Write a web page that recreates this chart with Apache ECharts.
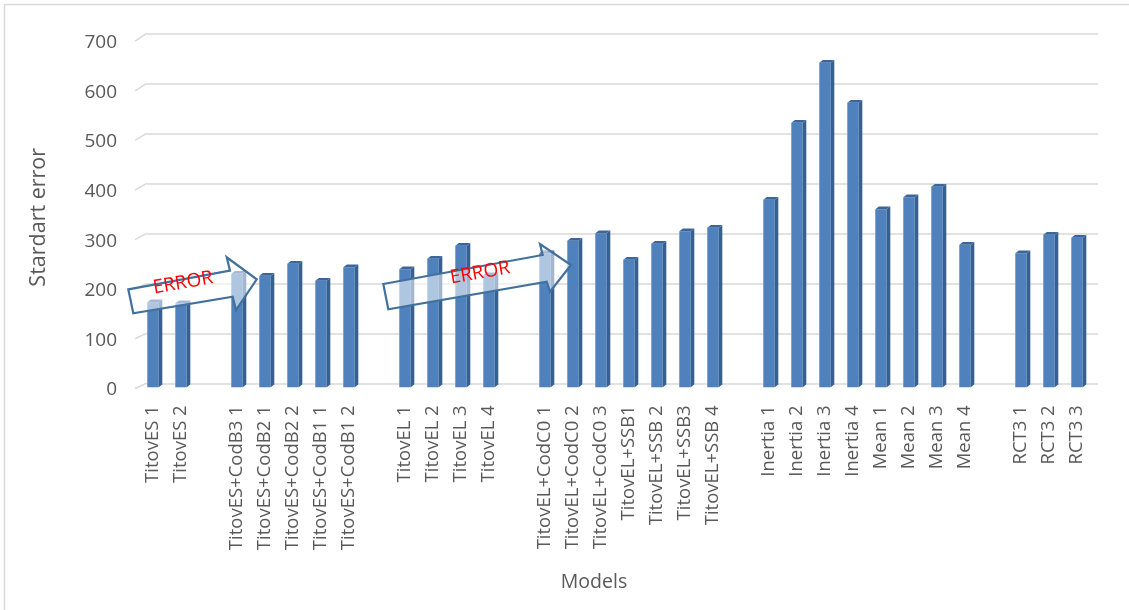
<!DOCTYPE html>
<html>
<head>
<meta charset="utf-8">
<script src="https://cdn.jsdelivr.net/npm/echarts@6/dist/echarts.min.js"></script>
<style>html,body{margin:0;padding:0;background:#fff}#c{width:1129px;height:610px}</style>
</head>
<body>
<div id="c"></div>
<script>
// ---- data ----
const categories = [
  'TitovES 1','TitovES 2','',
  'TitovES+CodB3 1','TitovES+CodB2 1','TitovES+CodB2 2','TitovES+CodB1 1','TitovES+CodB1 2','',
  'TitovEL 1','TitovEL 2','TitovEL 3','TitovEL 4','',
  'TitovEL+CodC0 1','TitovEL+CodC0 2','TitovEL+CodC0 3','TitovEL+SSB1','TitovEL+SSB 2','TitovEL+SSB3','TitovEL+SSB 4','',
  'Inertia 1','Inertia 2','Inertia 3','Inertia 4','Mean 1','Mean 2','Mean 3','Mean 4','',
  'RCT3 1','RCT3 2','RCT3 3'
];
const values = [
  170, 168, null,
  227, 223, 247, 213, 240, null,
  236, 257, 283, 224, null,
  268, 293, 308, 255, 287, 312, 319, null,
  375, 529, 649, 569, 356, 380, 401, 285, null,
  268, 305, 299
];
const yTicks = [0, 100, 200, 300, 400, 500, 600, 700];
const yAxisTitle = 'Stardart error';
const xAxisTitle = 'Models';
const arrowText = 'ERROR';

const chart = echarts.init(document.getElementById('c'), null, {renderer: 'canvas'});
const FONT = '"Open Sans", "Noto Sans", sans-serif';
const TXT = '#595959';

function bar3d(params, api) {
  const v = api.value(1);
  if (v == null || isNaN(v)) return null;
  const top = api.coord([api.value(0), v]);
  const base = api.coord([api.value(0), 0]);
  const fw = 11.4, sw = 3.6, th = 2.8;
  const L = top[0] - fw / 2;
  return {
    type: 'group',
    children: [
      {type: 'rect', shape: {x: L, y: top[1], width: fw, height: base[1] - top[1]},
       style: {fill: '#4F81BD'}},
      {type: 'polygon', shape: {points: [[L + fw, top[1]], [L + fw + sw, top[1] - th], [L + fw + sw, base[1] - th], [L + fw, base[1]]]},
       style: {fill: '#37608F'}},
      {type: 'polygon', shape: {points: [[L, top[1]], [L + fw, top[1]], [L + fw + sw, top[1] - th], [L + sw, top[1] - th]]},
       style: {fill: '#3C669A'}}
    ]
  };
}

chart.setOption({
  backgroundColor: '#fff',
  animation: false,
  grid: [
    {left: 139, right: 38, top: 37.3, bottom: 222.7, containLabel: false},
    {left: 146.7, right: 31, top: 33.3, bottom: 226.7, containLabel: false},
    {left: 139, right: 38, top: 42.7, bottom: 220, containLabel: false}
  ],
  xAxis: [
    {type: 'category', gridIndex: 0, data: categories,
     axisLine: {show: false}, axisTick: {show: false},
     axisLabel: {interval: 0, rotate: 90, color: TXT, fontFamily: FONT, fontSize: 18.5, margin: 18},
     name: xAxisTitle, nameLocation: 'middle', nameGap: 185,
     nameTextStyle: {color: TXT, fontFamily: FONT, fontSize: 19.5, padding: [0, 42, 0, 0]}},
    {type: 'category', gridIndex: 1, data: categories, show: false},
    {type: 'category', gridIndex: 2, data: categories, show: false}
  ],
  yAxis: [
    {type: 'value', gridIndex: 0, min: 0, max: 700, interval: 100,
     axisLine: {show: false}, axisTick: {show: false}, splitLine: {show: false},
     axisLabel: {show: false},
     name: yAxisTitle, nameLocation: 'middle', nameGap: 89, nameRotate: 90,
     nameTextStyle: {color: TXT, fontFamily: FONT, fontSize: 21.5, padding: [0, 10, 0, 0]}},
    {type: 'value', gridIndex: 1, min: 0, max: 700, interval: 100,
     axisLine: {show: false}, axisTick: {show: false}, axisLabel: {show: false},
     splitLine: {show: true, lineStyle: {color: '#D9D9D9', width: 1.5}}},
    {type: 'value', gridIndex: 2, min: 0, max: 700, interval: 100,
     axisLine: {show: false}, axisTick: {show: false}, splitLine: {show: false},
     axisLabel: {color: TXT, fontFamily: FONT, fontSize: 19, margin: 22}}
  ],
  series: [
    {type: 'custom', xAxisIndex: 0, yAxisIndex: 0,
     data: values.map((v, i) => [i, v]),
     renderItem: bar3d, z: 5}
  ]
});

// annotations: border, perspective ticks, arrows
const graphics = [];
graphics.push({type: 'rect', shape: {x: 4.5, y: 4.5, width: 1300, height: 800},
  style: {fill: 'none', stroke: '#D9D9D9', lineWidth: 1.5}, z: 0, silent: true});
yTicks.forEach(t => {
  const back = chart.convertToPixel({yAxisIndex: 1}, t);
  const front = chart.convertToPixel({yAxisIndex: 2}, t);
  graphics.push({type: 'line', shape: {x1: 135, y1: front - 1.5, x2: 146.7, y2: back},
    style: {stroke: '#D9D9D9', lineWidth: 1.5}, z: 1, silent: true});
});
function arrow(pts, textPos, rot) {
  graphics.push({type: 'polygon', shape: {points: pts},
    style: {fill: 'rgba(255,255,255,0.55)', stroke: '#41719C', lineWidth: 2.2, lineJoin: 'miter'}, z: 20});
  graphics.push({type: 'text', x: textPos[0], y: textPos[1], rotation: rot,
    style: {text: arrowText, fill: '#FF0000', font: '19px ' + FONT, align: 'center', verticalAlign: 'middle'}, z: 21});
}
arrow([[128.3, 289.3], [230, 270.7], [226.7, 257.3], [256.7, 279.3], [236, 310], [232.7, 296.7], [133.3, 313.3]],
  [183, 283], 10 * Math.PI / 180);
arrow([[383.3, 284], [542.7, 255], [540, 244], [571, 265], [550, 291.7], [546.7, 281.7], [388.3, 309.3]],
  [480, 273], 10 * Math.PI / 180);
chart.setOption({graphic: graphics});
</script>
</body>
</html>
